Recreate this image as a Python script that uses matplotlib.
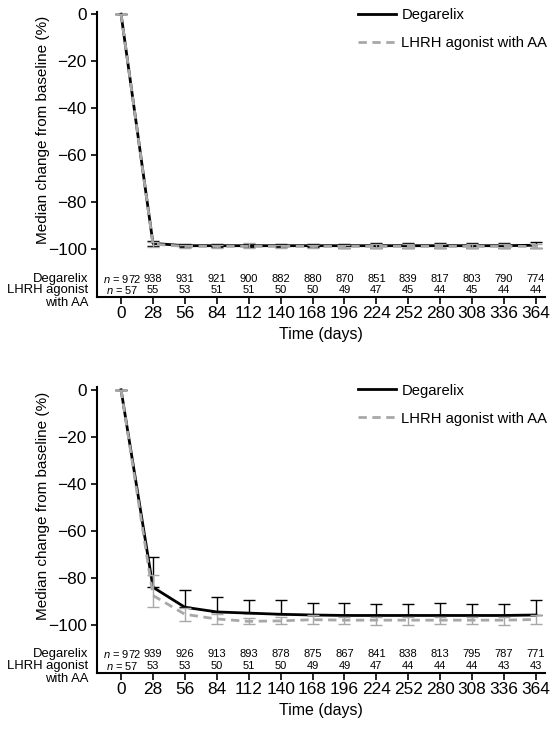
import matplotlib
matplotlib.use('Agg')
import matplotlib.pyplot as plt
from matplotlib.transforms import blended_transform_factory
from matplotlib.lines import Line2D

plt.rcParams['font.family'] = ['Liberation Sans', 'DejaVu Sans']
plt.rcParams['axes.unicode_minus'] = True
plt.rcParams['mathtext.fontset'] = 'custom'
plt.rcParams['mathtext.it'] = 'Liberation Sans:italic'
plt.rcParams['mathtext.rm'] = 'Liberation Sans'

days = [0, 28, 56, 84, 112, 140, 168, 196, 224, 252, 280, 308, 336, 364]

# Panel A
a_deg_med = [0, -97.5, -98.5, -98.5, -98.5, -98.5, -98.5, -98.5, -98.5, -98.5, -98.5, -98.5, -98.5, -98.3]
a_deg_hi = [0, -96.5, -97.8, -97.8, -97.8, -97.8, -97.8, -97.6, -97.4, -97.2, -97.2, -97.2, -97.2, -96.8]
a_deg_lo = [0, -98.8, -99.2, -99.2, -99.2, -99.2, -99.2, -99.3, -99.3, -99.4, -99.4, -99.4, -99.4, -99.5]
a_lhrh_med = [0, -97.8, -98.8, -98.8, -98.8, -98.8, -98.8, -98.8, -98.8, -98.8, -98.8, -98.8, -98.8, -98.8]
a_lhrh_hi = [0, -96.8, -98.0, -98.0, -97.5, -98.0, -98.0, -98.0, -97.8, -97.8, -97.8, -97.8, -97.8, -97.8]
a_lhrh_lo = [0, -99.2, -99.5, -99.5, -99.6, -99.5, -99.5, -99.5, -99.6, -99.6, -99.6, -99.6, -99.6, -99.6]
a_n_deg = [972, 938, 931, 921, 900, 882, 880, 870, 851, 839, 817, 803, 790, 774]
a_n_lhrh = [57, 55, 53, 51, 51, 50, 50, 49, 47, 45, 44, 45, 44, 44]

# Panel B
b_deg_med = [0, -84.0, -92.5, -94.5, -95.0, -95.5, -95.8, -96.0, -96.0, -96.0, -96.0, -96.0, -96.0, -95.8]
b_deg_hi = [0, -71.2, -85.2, -88.1, -89.4, -89.4, -90.5, -90.7, -91.2, -91.2, -90.7, -91.2, -91.2, -89.4]
b_deg_lo = [0, -84.0, -92.5, -94.5, -95.0, -95.5, -95.8, -96.0, -96.0, -96.0, -96.0, -96.0, -96.0, -95.8]
b_lhrh_med = [0, -87.5, -95.5, -97.5, -98.5, -98.3, -97.8, -98.0, -98.0, -98.0, -98.0, -98.0, -98.0, -97.7]
b_lhrh_hi = [0, -78.8, -93.0, -95.5, -97.0, -96.5, -96.0, -96.5, -96.5, -96.5, -96.5, -96.5, -96.5, -96.0]
b_lhrh_lo = [0, -92.5, -98.3, -99.5, -99.8, -99.8, -99.5, -99.8, -100.0, -100.0, -99.8, -99.8, -100.0, -99.8]
b_n_deg = [972, 939, 926, 913, 893, 878, 875, 867, 841, 838, 813, 795, 787, 771]
b_n_lhrh = [57, 53, 53, 50, 51, 50, 49, 49, 47, 44, 44, 44, 43, 43]

row_labels = ['Degarelix', 'LHRH agonist', 'with AA']
legend_labels = ['Degarelix', 'LHRH agonist with AA']

BLACK = '#000000'
GREY = '#a8a8a8'
ROW1, ROW2, ROW3 = -112.5, -117.5, -123.0


def panel(ax, deg_med, deg_lo, deg_hi, lh_med, lh_lo, lh_hi, n_deg, n_lhrh):
    ax.errorbar(days, deg_med,
                yerr=[[m - l for m, l in zip(deg_med, deg_lo)],
                      [h - m for m, h in zip(deg_med, deg_hi)]],
                color=BLACK, lw=2, elinewidth=1, capsize=4, capthick=1, zorder=3)
    ax.errorbar(days, lh_med,
                yerr=[[m - l for m, l in zip(lh_med, lh_lo)],
                      [h - m for m, h in zip(lh_med, lh_hi)]],
                color=GREY, lw=2, ls=(0, (3, 2)), elinewidth=1, capsize=4,
                capthick=1, zorder=4)

    ax.set_xlim(-21, 372)
    ax.set_ylim(-120.5, 1)
    ax.set_xticks(days)
    ax.set_yticks([0, -20, -40, -60, -80, -100])
    ax.tick_params(axis='both', labelsize=12.4, width=1.2, length=4, direction='out')
    ax.tick_params(axis='x', length=5, pad=1.5)
    for s in ['top', 'right']:
        ax.spines[s].set_visible(False)
    for s in ['left', 'bottom']:
        ax.spines[s].set_linewidth(1.5)

    ax.set_xlabel('Time (days)', fontsize=11.5, labelpad=4)
    ax.set_ylabel('Median change from baseline (%)', fontsize=11)
    ax.yaxis.set_label_coords(-0.105, 0.585)

    # n at risk rows
    tr = blended_transform_factory(ax.transAxes, ax.transData)
    for lab, yy in zip(row_labels, [ROW1, ROW2, ROW3]):
        ax.text(-0.02, yy, lab, transform=tr, ha='right', va='center',
                fontsize=9.4, clip_on=False)
    for i, d in enumerate(days):
        if i == 0:
            t1 = r'$\it{n}$ = %d' % n_deg[i]
            t2 = r'$\it{n}$ = %d' % n_lhrh[i]
            ax.text(d + 1, ROW1, t1, ha='center', va='center', fontsize=8)
            ax.text(d + 1, ROW2, t2, ha='center', va='center', fontsize=8)
        else:
            ax.text(d, ROW1, str(n_deg[i]), ha='center', va='center', fontsize=8)
            ax.text(d, ROW2, str(n_lhrh[i]), ha='center', va='center', fontsize=8)

    handles = [Line2D([], [], color=BLACK, lw=2),
               Line2D([], [], color=GREY, lw=2, ls=(0, (3, 2)))]
    ax.legend(handles, legend_labels, loc='upper right',
              bbox_to_anchor=(1.035, 1.06), frameon=False, fontsize=10.6,
              handlelength=2.6, handletextpad=0.35, labelspacing=0.95)


fig = plt.figure(figsize=(5.55, 7.38), dpi=100)
ax1 = fig.add_axes([0.175, 0.597, 0.807, 0.387])
ax2 = fig.add_axes([0.175, 0.088, 0.807, 0.387])

panel(ax1, a_deg_med, a_deg_lo, a_deg_hi, a_lhrh_med, a_lhrh_lo, a_lhrh_hi, a_n_deg, a_n_lhrh)
panel(ax2, b_deg_med, b_deg_lo, b_deg_hi, b_lhrh_med, b_lhrh_lo, b_lhrh_hi, b_n_deg, b_n_lhrh)

fig.savefig('out.png', dpi=100, facecolor='white')
